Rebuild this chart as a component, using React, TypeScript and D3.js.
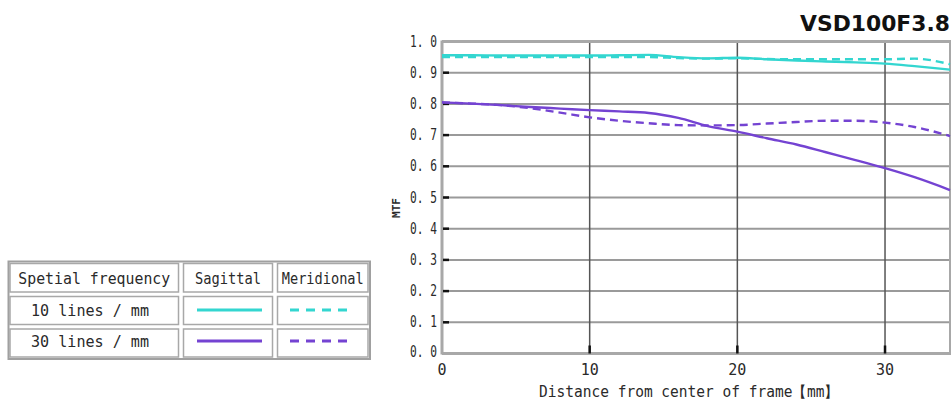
import React from "react";
import * as d3 from "d3";

const distances = [0, 2, 4, 6, 8, 10, 12, 14, 16, 18, 20, 22, 24, 26, 28, 30, 32, 34.4];
const sag10 = [0.956, 0.956, 0.955, 0.955, 0.955, 0.955, 0.956, 0.957, 0.950, 0.946, 0.948, 0.943, 0.939, 0.936, 0.933, 0.929, 0.921, 0.910];
const mer10 = [0.950, 0.950, 0.950, 0.950, 0.950, 0.950, 0.950, 0.950, 0.947, 0.945, 0.946, 0.944, 0.943, 0.943, 0.943, 0.943, 0.945, 0.927];
const sag30 = [0.805, 0.801, 0.796, 0.790, 0.785, 0.780, 0.776, 0.771, 0.755, 0.729, 0.711, 0.690, 0.670, 0.645, 0.620, 0.594, 0.565, 0.524];
const mer30 = [0.805, 0.801, 0.796, 0.786, 0.772, 0.757, 0.746, 0.738, 0.732, 0.731, 0.732, 0.737, 0.742, 0.746, 0.746, 0.740, 0.726, 0.697];
const xTicks = [0, 10, 20, 30];
const yTicks = [0, 0.1, 0.2, 0.3, 0.4, 0.5, 0.6, 0.7, 0.8, 0.9, 1.0];
const legendRows = ["10 lines / mm", "30 lines / mm"];
const legendHeaders = ["Spetial frequency", "Sagittal", "Meridional"];

const CYAN = "#33d6d0";
const PURPLE = "#7443d2";
const MONO = "'DejaVu Sans Mono', 'Liberation Mono', monospace";
const TXT = "#2a2a2a";

export default function App() {
  const x = d3.scaleLinear().domain([0, 34.4]).range([442, 950]);
  const y = d3.scaleLinear().domain([0, 1]).range([353.5, 41.5]);
  const line = d3
    .line<number>()
    .x((_, i) => x(distances[i]))
    .y((d) => y(d))
    .curve(d3.curveMonotoneX);

  const series = [
    { v: sag10, c: CYAN, dash: "" },
    { v: mer10, c: CYAN, dash: "8 5" },
    { v: sag30, c: PURPLE, dash: "" },
    { v: mer30, c: PURPLE, dash: "8 5" },
  ];

  const fmt = (t: number) => t.toFixed(1).replace(".", ". ");

  const cols = [
    [8.5, 180],
    [182, 274],
    [276, 369.5],
  ];
  const rows = [
    [262, 293.5],
    [295, 326],
    [327.5, 358.5],
  ];

  return (
    <svg
      width={952}
      height={406}
      style={{ position: "absolute", left: 0, top: 0, background: "#fff" }}
    >
      <rect x={0} y={0} width={952} height={406} fill="#fff" />
      <text
        x={950}
        y={31}
        textAnchor="end"
        fontFamily="'DejaVu Sans', sans-serif"
        fontWeight="bold"
        fontSize={21}
        fill="#111"
        textLength={150}
        lengthAdjust="spacingAndGlyphs"
      >
        VSD100F3.8
      </text>

      {yTicks.map((t) => (
        <line key={"h" + t} x1={x(0)} x2={950} y1={y(t)} y2={y(t)} stroke="#9a9a9a" strokeWidth={2} />
      ))}
      {xTicks.slice(1).map((t) => (
        <line key={"v" + t} x1={x(t)} x2={x(t)} y1={y(1)} y2={y(0)} stroke="#555" strokeWidth={1.5} />
      ))}
      <line x1={x(0)} x2={x(0)} y1={y(1) - 1} y2={y(0) + 1} stroke="#a8a8a8" strokeWidth={3} />
      <line x1={x(0)} x2={951} y1={y(0)} y2={y(0)} stroke="#a8a8a8" strokeWidth={3} />
      <line x1={x(0)} x2={951} y1={y(1)} y2={y(1)} stroke="#a8a8a8" strokeWidth={3} />
      <line x1={950} x2={950} y1={y(1)} y2={y(0)} stroke="#a8a8a8" strokeWidth={2} />
      {yTicks.slice(1, -1).map((t) => (
        <line key={"yt" + t} x1={x(0) + 1} x2={x(0) + 7} y1={y(t)} y2={y(t)} stroke="#111" strokeWidth={2.5} />
      ))}
      {xTicks.slice(1).map((t) => (
        <line key={"xt" + t} x1={x(t)} x2={x(t)} y1={y(0) - 8} y2={y(0)} stroke="#111" strokeWidth={2.5} />
      ))}

      {series.map((s, i) => (
        <path
          key={i}
          d={line(s.v) || ""}
          fill="none"
          stroke={s.c}
          strokeWidth={2.4}
          strokeDasharray={s.dash}
        />
      ))}

      {yTicks.map((t) => (
        <text
          key={"yl" + t}
          x={437}
          y={y(t) + (t === 0 ? 3 : 5)}
          textAnchor="end"
          fontFamily={MONO}
          fontSize={15}
          fill={TXT}
          textLength={27}
          lengthAdjust="spacingAndGlyphs"
        >
          {fmt(t)}
        </text>
      ))}
      {xTicks.map((t) => (
        <text
          key={"xl" + t}
          x={x(t)}
          y={375}
          textAnchor="middle"
          fontFamily={MONO}
          fontSize={15}
          fill={TXT}
        >
          {t}
        </text>
      ))}
      <text
        x={689}
        y={397}
        textAnchor="middle"
        fontFamily={MONO}
        fontSize={15}
        fill={TXT}
        textLength={300}
        lengthAdjust="spacingAndGlyphs"
      >
        Distance from center of frame【mm】
      </text>
      <text
        transform="translate(400,208) rotate(-90)"
        textAnchor="middle"
        fontFamily={MONO}
        fontWeight="bold"
        fontSize={11}
        fill={TXT}
      >
        MTF
      </text>

      <rect x={8.5} y={261.5} width={361.5} height={97.5} fill="#fff" stroke="#a0a0a0" strokeWidth={2} />
      {rows.map((r, ri) =>
        cols.map((c, ci) => (
          <rect
            key={`c${ri}${ci}`}
            x={c[0] + 1.5}
            y={r[0] + 1.5}
            width={c[1] - c[0] - 3}
            height={r[1] - r[0] - 3}
            fill="#fff"
            stroke="#a8a8a8"
            strokeWidth={1.5}
          />
        ))
      )}
      {legendHeaders.map((h, i) => (
        <text
          key={h}
          x={(cols[i][0] + cols[i][1]) / 2}
          y={284}
          textAnchor="middle"
          fontFamily={MONO}
          fontSize={16}
          fill={TXT}
          textLength={i === 0 ? 152 : i === 1 ? 66 : 82}
          lengthAdjust="spacingAndGlyphs"
        >
          {h}
        </text>
      ))}
      {legendRows.map((r, i) => (
        <g key={r}>
          <text
            x={90}
            y={316 + i * 31}
            textAnchor="middle"
            fontFamily={MONO}
            fontSize={16}
            fill={TXT}
            textLength={118}
            lengthAdjust="spacingAndGlyphs"
          >
            {r}
          </text>
          <line x1={197} x2={262} y1={310 + i * 31} y2={310 + i * 31} stroke={i === 0 ? CYAN : PURPLE} strokeWidth={3} />
          <line
            x1={290}
            x2={352}
            y1={310 + i * 31}
            y2={310 + i * 31}
            stroke={i === 0 ? CYAN : PURPLE}
            strokeWidth={3}
            strokeDasharray="9 7"
          />
        </g>
      ))}
    </svg>
  );
}
